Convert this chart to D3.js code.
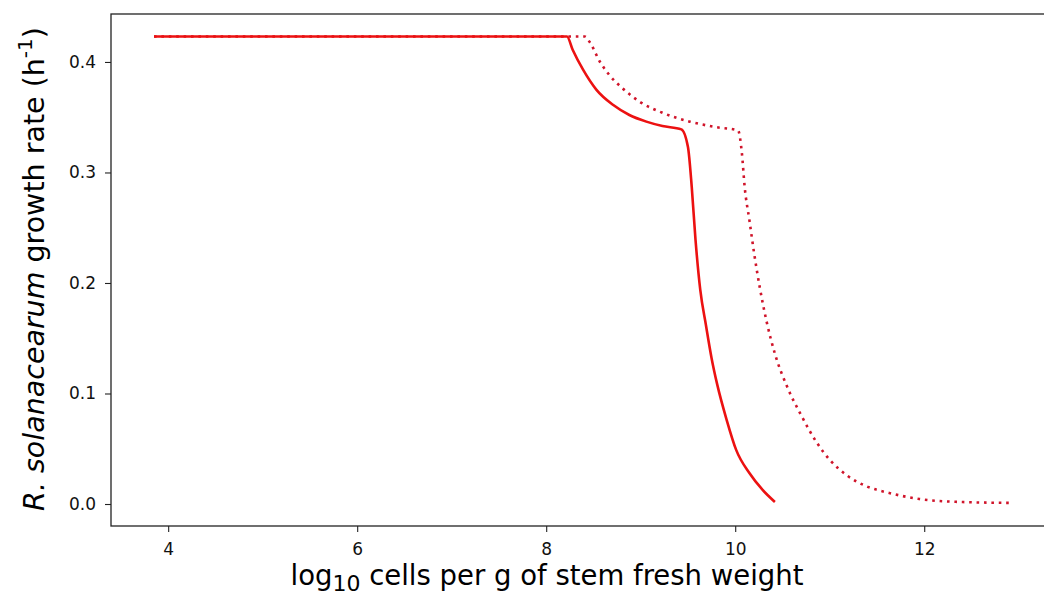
<!DOCTYPE html>
<html>
<head>
<meta charset="utf-8">
<script src="https://cdn.jsdelivr.net/npm/d3@7"></script>
<style>
  body { margin: 0; background: #fff; }
  svg { display: block; font-family: "DejaVu Sans", sans-serif; }
</style>
</head>
<body>
<svg id="chart" width="1044" height="592"></svg>
<script>
// solid curve (x = log10 cells, y = growth rate)
const solidX = [3.85, 8.22, 8.28, 8.39, 8.53, 8.71, 8.88, 9.06, 9.23, 9.43, 9.50, 9.54, 9.58, 9.63, 9.69, 9.75, 9.81, 9.91, 10.01, 10.15, 10.29, 10.42];
const solidY = [0.423, 0.423, 0.411, 0.393, 0.375, 0.361, 0.352, 0.346, 0.342, 0.339, 0.323, 0.287, 0.239, 0.194, 0.162, 0.132, 0.108, 0.076, 0.049, 0.028, 0.0127, 0.0018];

// dotted curve
const dotX = [3.85, 8.41, 8.46, 8.57, 8.67, 8.81, 8.99, 9.23, 9.52, 9.80, 10.03, 10.07, 10.10, 10.15, 10.20, 10.26, 10.33, 10.42, 10.55, 10.70, 10.86, 11.00, 11.18, 11.39, 11.63, 11.95, 12.33, 12.92];
const dotY = [0.423, 0.423, 0.418, 0.400, 0.388, 0.376, 0.364, 0.354, 0.346, 0.341, 0.338, 0.318, 0.287, 0.257, 0.227, 0.196, 0.166, 0.136, 0.106, 0.080, 0.056, 0.040, 0.026, 0.016, 0.010, 0.0045, 0.002, 0.001];

const xTicks = [4, 6, 8, 10, 12];
const yTicks = [0.0, 0.1, 0.2, 0.3, 0.4];

const svg = d3.select('#chart');
const margin = {left: 111, top: 14, right: 1057, bottom: 526};

const x = d3.scaleLinear().domain([3.395, 13.405]).range([margin.left, margin.right]);
const y = d3.scaleLinear().domain([-0.0199, 0.4434]).range([margin.bottom, margin.top]);

const line = d3.line()
    .x(d => x(d[0]))
    .y(d => y(d[1]))
    .curve(d3.curveMonotoneX);

const g = svg.append('g');

g.append('path')
    .datum(dotX.map((v, i) => [v, dotY[i]]))
    .attr('fill', 'none')
    .attr('stroke', '#d0142a')
    .attr('stroke-width', 2.6)
    .attr('stroke-dasharray', '2.6,4.8')
    .attr('d', line);

g.append('path')
    .datum(solidX.map((v, i) => [v, solidY[i]]))
    .attr('fill', 'none')
    .attr('stroke', '#ec1111')
    .attr('stroke-width', 2.6)
    .attr('stroke-linejoin', 'round')
    .attr('d', line);

// axes
const xAxis = svg.append('g')
    .attr('transform', `translate(0, ${margin.bottom})`)
    .call(d3.axisBottom(x).tickValues(xTicks).tickSize(6).tickPadding(11).tickFormat(d3.format('d')));

const yAxis = svg.append('g')
    .attr('transform', `translate(${margin.left}, 0)`)
    .call(d3.axisLeft(y).tickValues(yTicks).tickSize(6).tickPadding(9).tickFormat(d3.format('.1f')));

[xAxis, yAxis].forEach(a => {
    a.attr('font-family', null).attr('font-size', null);
    a.select('.domain').remove();
    a.selectAll('.tick line').attr('stroke', '#222').attr('stroke-width', 1.1);
    a.selectAll('.tick text').style('font-size', '17px').attr('fill', '#111');
});

// frame
svg.append('rect')
    .attr('x', margin.left)
    .attr('y', margin.top)
    .attr('width', margin.right - margin.left)
    .attr('height', margin.bottom - margin.top)
    .attr('fill', 'none')
    .attr('stroke', '#222')
    .attr('stroke-width', 1.3);

// x label
const xl = svg.append('text')
    .attr('x', 547)
    .attr('y', 585)
    .attr('text-anchor', 'middle')
    .attr('font-size', 27.5)
    .attr('fill', '#000');
xl.append('tspan').text('log');
xl.append('tspan').attr('dy', 6).attr('font-size', 22).text('10');
xl.append('tspan').attr('dy', -6).text(' cells per g of stem fresh weight');

// y label
const yl = svg.append('text')
    .attr('transform', `translate(44, 269) rotate(-90)`)
    .attr('text-anchor', 'middle')
    .attr('font-size', 28.5)
    .attr('fill', '#000');
yl.append('tspan').attr('font-style', 'italic').text('R. solanacearum');
yl.append('tspan').text(' growth rate (h');
yl.append('tspan').attr('dy', -12).attr('font-size', 20).text('-1');
yl.append('tspan').attr('dy', 12).text(')');
</script>
</body>
</html>
